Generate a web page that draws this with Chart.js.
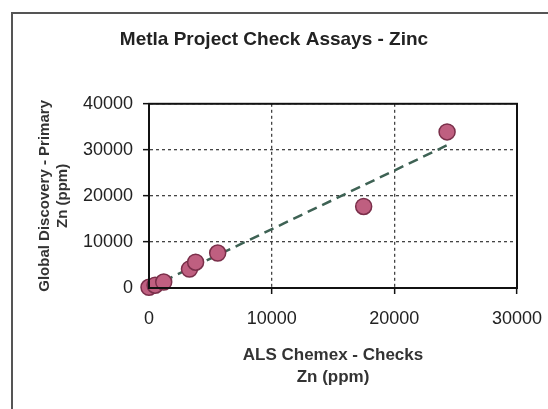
<!DOCTYPE html>
<html>
<head>
<meta charset="utf-8">
<script src="https://cdn.jsdelivr.net/npm/chart.js@4"></script>
<style>
  html, body { margin: 0; padding: 0; background: #fff; }
  #wrap { position: relative; width: 548px; height: 409px; overflow: hidden; }
  #frame {
    position: absolute; left: 11px; top: 12px; width: 600px; height: 500px;
    border-left: 2px solid #555; border-top: 2px solid #555;
  }
  canvas { position: absolute; left: 0; top: 0; }
</style>
</head>
<body>
<div id="wrap">
  <div id="frame"></div>
  <canvas id="zinc" width="548" height="409"></canvas>
</div>
<script>
// values
const checkX = [0, 500, 1200, 3300, 3800, 5600, 17500, 24300]
const primaryY = [150, 600, 1300, 4100, 5600, 7600, 17700, 33900]
const trendX = [0, 24300]
const trendY = [0, 31000]
const xTicks = [0, 10000, 20000, 30000]
const yTicks = [0, 10000, 20000, 30000, 40000]

Chart.defaults.font.family = "'Liberation Sans', Arial, sans-serif"
Chart.defaults.color = '#222'

const plotBox = {
  id: 'plotBox',
  afterDraw: chart => {
    const { ctx, chartArea: a } = chart
    ctx.save()
    ctx.strokeStyle = '#111'
    ctx.lineWidth = 2
    ctx.strokeRect(a.left, a.top, a.right - a.left, a.bottom - a.top)
    ctx.restore()
  },
}

const ctxZinc = document.getElementById('zinc').getContext('2d')

const gridOpts = {
  color: '#444',
  lineWidth: 1.3,
  tickLength: 6,
  tickColor: '#111',
  tickWidth: 1.5,
}

const zincChart = new Chart(ctxZinc, {
  type: 'scatter',
  data: {
    datasets: [
      {
        type: 'line',
        label: 'Trend',
        data: trendX.map((x, i) => ({ x, y: trendY[i] })),
        borderColor: '#3e6254',
        borderWidth: 2.5,
        borderDash: [10, 6],
        pointRadius: 0,
        fill: false,
        order: 2,
      },
      {
        label: 'Zn checks',
        data: checkX.map((x, i) => ({ x, y: primaryY[i] })),
        backgroundColor: '#bf5f80',
        borderColor: '#7a2f4a',
        borderWidth: 1.5,
        pointRadius: 8,
        clip: false,
        order: 1,
      },
    ],
  },
  options: {
    responsive: false,
    animation: false,
    devicePixelRatio: 1,
    // left padding keeps the title centred like the original
    layout: { padding: { left: 31, right: 31, top: 0, bottom: 0 } },
    plugins: {
      legend: { display: false },
      tooltip: { enabled: false },
      title: {
        display: true,
        text: 'Metla Project Check Assays - Zinc',
        font: { size: 19, weight: 'bold' },
        color: '#222',
        padding: { top: 28, bottom: 53 },
      },
    },
    scales: {
      x: {
        type: 'linear',
        min: 0,
        max: 30000,
        afterFit: s => {
          s.height = 121
          s.paddingLeft = 0
          s.paddingRight = 0
        },
        afterBuildTicks: s => { s.ticks = xTicks.map(v => ({ value: v })) },
        grid: gridOpts,
        border: { color: '#111', width: 2, dash: [3, 3] },
        ticks: {
          font: { size: 18 },
          padding: 14,
          maxRotation: 0,
          callback: v => String(v),
        },
        title: {
          display: true,
          text: ['ALS Chemex - Checks', 'Zn (ppm)'],
          font: { size: 17, weight: 'bold', lineHeight: '22px' },
          color: '#333',
          padding: { top: 0, bottom: 21 },
        },
      },
      y: {
        type: 'linear',
        min: 0,
        max: 40000,
        afterFit: s => { s.width = 118 },
        afterBuildTicks: s => { s.ticks = yTicks.map(v => ({ value: v })) },
        grid: gridOpts,
        border: { color: '#111', width: 2, dash: [3, 3] },
        ticks: {
          font: { size: 18 },
          padding: 10,
          callback: v => String(v),
        },
        title: {
          display: true,
          text: ['Global Discovery - Primary', 'Zn (ppm)'],
          font: { size: 15, weight: 'bold', lineHeight: '18px' },
          color: '#333',
          padding: { top: 5, bottom: 0 },
        },
      },
    },
  },
  plugins: [plotBox],
})
</script>
</body>
</html>
